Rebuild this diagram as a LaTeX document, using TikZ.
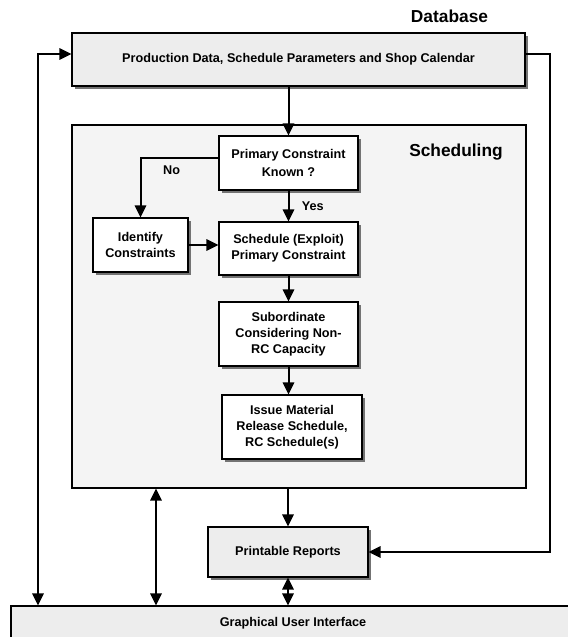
\documentclass[tikz,border=0pt]{standalone}
\usepackage{fontspec}
\setmainfont{Liberation Sans}
\usetikzlibrary{arrows.meta,shadows}
\definecolor{panel}{HTML}{EDEDED}
\definecolor{area}{HTML}{F4F4F4}
\begin{document}
\begin{tikzpicture}[x=0.75pt,y=-0.75pt,
  every node/.style={font=\fontsize{9.5}{12}\selectfont\bfseries},
  shade3d/.style={drop shadow={shadow xshift=2.2pt,shadow yshift=-2.2pt,fill=black!55,opacity=1}},
  flowbox/.style={draw=black,line width=0.8pt,fill=white,align=center,inner sep=2pt,shade3d},
  panelbox/.style={draw=black,line width=0.8pt,fill=panel,align=center,inner sep=2pt},
  title/.style={font=\fontsize{13}{15}\selectfont\bfseries},
  link/.style={line width=1.5pt,-{Triangle[length=9pt,width=8.5pt]}},
  both/.style={line width=1.5pt,{Triangle[length=9pt,width=8.5pt]}-{Triangle[length=9pt,width=8.5pt]}},
  tag/.style={font=\fontsize{9.5}{11}\selectfont\bfseries}]
\useasboundingbox (0,0) rectangle (568,637);

% database
\node[title] (dbtitle) at (449.5,16.5) {Database};
\node[panelbox,shade3d,minimum width=339.75pt,minimum height=39.75pt] (db) at (298.5,59.5)
  {Production Data, Schedule Parameters and Shop Calendar};

% scheduling area
\node[draw=black,line width=0.8pt,fill=area,minimum width=340.5pt,minimum height=272.25pt] (sched) at (299,306.5) {};
\node[title] (schedtitle) at (456,152) {Scheduling};

\node[flowbox,minimum width=104.25pt,minimum height=40.5pt] (prim) at (288.5,163)
  {Primary Constraint\\[1.5pt]Known ?};
\node[flowbox,minimum width=71.25pt,minimum height=40.5pt] (ident) at (140.5,245)
  {Identify\\Constraints};
\node[flowbox,minimum width=104.25pt,minimum height=39.75pt] (schex) at (288.5,248.5)
  {Schedule (Exploit)\\Primary Constraint};
\node[flowbox,minimum width=104.25pt,minimum height=48pt] (sub) at (288.5,334)
  {Subordinate\\Considering Non-\\RC Capacity};
\node[flowbox,minimum width=105pt,minimum height=48pt] (issue) at (292,427)
  {Issue Material\\Release Schedule,\\RC Schedule(s)};

% outputs
\node[panelbox,shade3d,minimum width=120pt,minimum height=37.5pt] (rep) at (288,552) {Printable Reports};
\node[panelbox,minimum width=423pt,minimum height=26.25pt] (gui) at (293,623.5) {Graphical User Interface};

% routing points
\coordinate (lc) at (38,54);
\coordinate (rc) at (550,54);
\coordinate (mc) at (156,0);

% connectors
\draw[both] (db.west |- lc) -| (lc |- gui.north);
\draw[link] (db.east |- rc) -| (rc |- rep.east) -- (rep.east);
\draw[link] (prim.north |- db.south) -- (prim.north);
\draw[link] ([yshift=3.75pt]prim.west) -| (ident.north)
  node[tag,pos=0.3,below=2pt] (no) {No};
\draw[link] (prim.south) -- (schex.north)
  node[tag,midway,right=6pt] (yes) {Yes};
\draw[link] (ident.east) -- (ident.east -| schex.west);
\draw[link] (schex.south) -- (sub.north);
\draw[link] (sub.south) -- (sub.south |- issue.north);
\draw[link] (rep.north |- sched.south) -- (rep.north);
\draw[both] (mc |- sched.south) -- (mc |- gui.north);
\draw[both] (rep.south) -- (rep.south |- gui.north);
\end{tikzpicture}
\end{document}
